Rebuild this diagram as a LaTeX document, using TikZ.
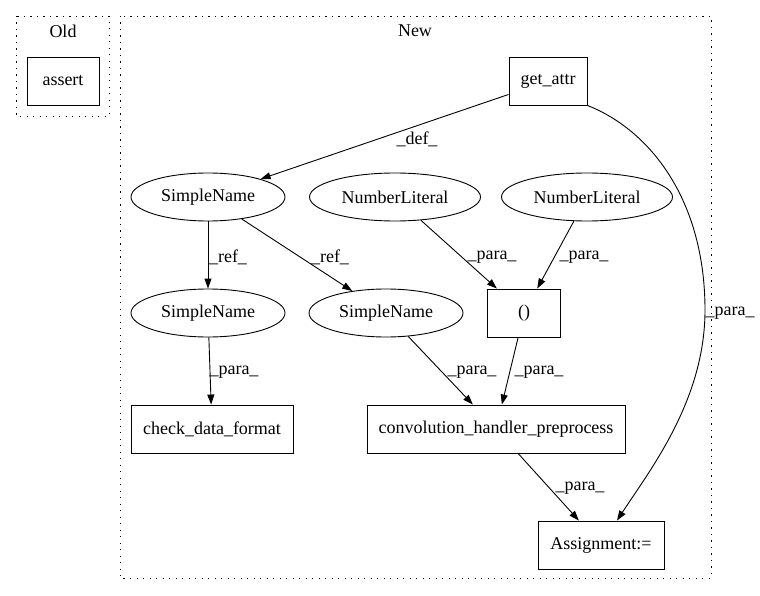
\documentclass[tikz,border=0pt]{standalone}
\usepackage{fontspec}
\setmainfont{Liberation Serif}
\usetikzlibrary{shapes.geometric,arrows.meta}
\begin{document}
\begin{tikzpicture}[x=1pt,y=-1pt,
  every node/.style={font=\fontsize{18}{20}\selectfont},
  box/.style={draw,line width=0.9pt,rectangle,minimum height=48pt,inner sep=0pt},
  oval/.style={draw,line width=0.9pt,ellipse,minimum height=48pt,inner sep=0pt},
  cluster/.style={line width=0.9pt,dash pattern=on 1.3pt off 5.2pt},
  edge/.style={line width=0.9pt,-{Triangle[length=10pt,width=7pt]}},
  lbl/.style={inner sep=0pt,fill=none}]
\useasboundingbox (0,0) rectangle (760,596);
\fill[white] (0,0) rectangle (760,596);
% clusters
\draw[cluster] (16,16) rectangle (109,116);
\node[lbl] (oldlbl) at (63,31) {Old};
\draw[cluster] (120,16) rectangle (711,578);
\node[lbl] (newlbl) at (415,31) {New};
% nodes
\node[box,minimum width=72pt] (assert) at (63,81) {assert};
\node[box,minimum width=78pt] (getattr) at (548,81) {get\_attr};
\node[oval,minimum width=154pt] (sn1) at (208,197) {SimpleName};
\node[oval,minimum width=171pt] (nl1) at (395,197) {NumberLiteral};
\node[oval,minimum width=171pt] (nl2) at (587,197) {NumberLiteral};
\node[box,minimum width=73pt] (paren) at (524,313) {()};
\node[oval,minimum width=154pt] (sn2) at (208,313) {SimpleName};
\node[oval,minimum width=154pt] (sn3) at (386,313) {SimpleName};
\node[box,minimum width=162pt] (cdf) at (212,429) {check\_data\_format};
\node[box,minimum width=258pt] (conv) at (496,429) {convolution\_handler\_preprocess};
\node[box,minimum width=126pt] (assign) at (601,545) {Assignment:=};
% edges
\draw[edge] (getattr) -- (sn1);
\node[lbl] (l1) at (417,139) {\_def\_};
\draw[edge] (getattr.south east) .. controls (650,130) and (705,200) .. (705,310)
  .. controls (705,400) and (650,470) .. (assign.north east -| 617,0);
\node[lbl] (l2) at (730,313) {\_para\_};
\draw[edge] (sn1) -- (sn2);
\node[lbl] (l3) at (228,257) {\_ref\_};
\draw[edge] (sn1) -- (sn3);
\node[lbl] (l4) at (330,257) {\_ref\_};
\draw[edge] (nl1) -- (paren);
\node[lbl] (l5) at (492,257) {\_para\_};
\draw[edge] (nl2) -- (paren);
\node[lbl] (l6) at (584,257) {\_para\_};
\draw[edge] (sn2) -- (cdf);
\node[lbl] (l7) at (234,372) {\_para\_};
\draw[edge] (sn3) -- (conv);
\node[lbl] (l8) at (472,372) {\_para\_};
\draw[edge] (paren) -- (conv);
\node[lbl] (l9) at (539,372) {\_para\_};
\draw[edge] (conv) -- (assign);
\node[lbl] (l10) at (580,488) {\_para\_};
\end{tikzpicture}
\end{document}
